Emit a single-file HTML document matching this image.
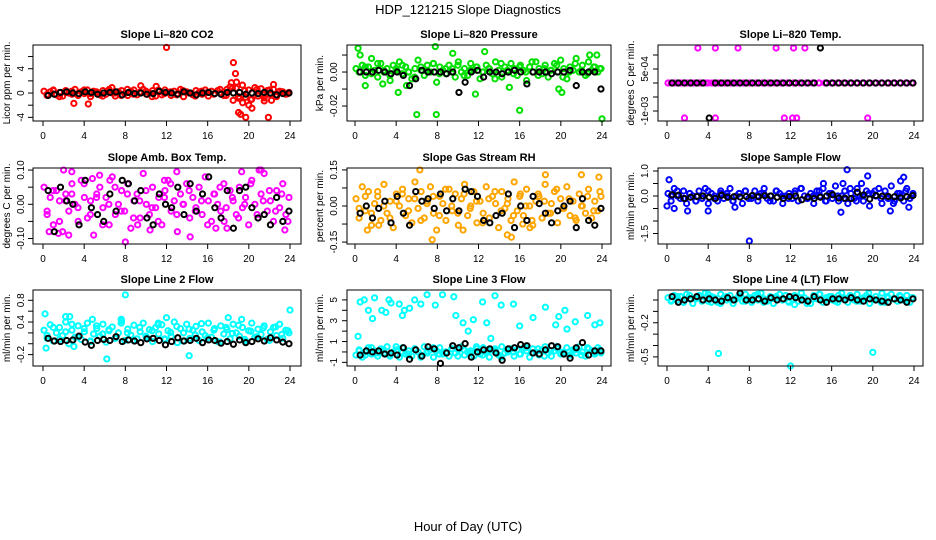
<!DOCTYPE html>
<html><head><meta charset="utf-8"><style>
html,body{margin:0;padding:0;background:#fff;}
svg{display:block;font-family:"Liberation Sans",Arial,sans-serif;}
</style></head><body>
<svg id="fig" width="936" height="540" viewBox="0 0 936 540" xmlns="http://www.w3.org/2000/svg">
<text x="468" y="14" text-anchor="middle" font-size="13">HDP_121215  Slope Diagnostics</text>
<text x="468" y="531" text-anchor="middle" font-size="13">Hour of Day (UTC)</text>
<g id="panels"></g>
</svg>
<script>
const xTicks=[0,4,8,12,16,20,24];
// CO2 (ppm/min)
const co2Band=[0.3,-0.4,0.2,0.5,-0.3,0.1,-0.5,0.4,0.0,-0.2,0.6,-0.4,0.2,-0.1,0.5,-0.6,0.3,0.1,-0.3,0.4,-0.2,0.6,0.0,-0.5,0.2,0.4,-0.1,-0.4,0.3,0.5,-0.3,0.1,0.6,-0.2,0.0,0.4,-0.5,0.2,-0.3,0.5,0.1,-0.4,0.3,-0.1,0.6,-0.6,0.2,0.0,-0.3,0.4,0.1,-0.2,0.5,-0.5,0.3,-0.1,0.4,0.0,-0.4,0.6,1.0,-1.2,0.8,-0.9,1.3,-0.7,0.5,-1.0,0.9,-0.5,0.7,-0.8,0.4,-0.3,0.6,-0.6,0.3,0.2,-0.2,0.1];
const co2Band2=[-0.2,0.4,-0.6,0.1,0.3,-0.3,0.5,-0.1,0.2,-0.5,0.4,0.0,-0.4,0.6,-0.2,0.1,0.3,-0.6,0.5,-0.1,0.2,-0.3,0.4,0.0,-0.5,0.3,0.1,-0.2,0.6,-0.4,0.8,-0.6,0.4,-1.1,0.6,-0.3,0.5,-0.4,0.2,-0.1];
const co2OutHour=[12,18.5,18.7,18.8,19,19.2,19.7,21.9,20.3,19.4,3,4.4,20,21.5,22.2,22.4,18.3,9.5,11,6.7];
const co2OutVal=[7.5,5,3.2,1.8,-3.2,-3.5,-4,-4,-2.5,-1.6,-1.7,-1.8,-2,-1.3,-1.2,1.4,1.7,1.2,1.1,0.9];
const co2Black=[-0.4,-0.2,0.1,0.2,0,-0.1,0.2,0.1,-0.2,0,0.1,0.2,-0.3,0.1,-0.1,0,-0.2,-0.1,0.3,0.1,0,-0.2,0.2,0,-0.3,0,0.1,-0.1,-0.2,0.1,0,0.1,-0.2,0,-0.1,0.1,0,-0.3,-0.1,0];
const co2Ticks=[-4,-2,0,2,4,6];
const co2Labels=["-4","","0","","4",""];
// Pressure (0.001 kPa/min)
const presBand=[2,0,4,-2,3,8,1,-3,5,0,2,-5,4,1,6,-1,3,0,-4,2,7,1,-2,4,0,5,-6,3,1,-1,4,2,-3,6,0,2,-2,5,1,3,-4,0,4,2,-1,6,1,-3,3,0,5,2,-2,4,1,-5,3,0,6,2,-1,4,-3,1,5,0,7,2,-4,3,1,8,0,4,-2,6,1,3,0,2];
const presBand2=[0,3,-1,5,1,-2,2,4,0,-3,3,1,5,-1,2,0,4,-2,1,3,0,2,-4,5,1,-1,3,0,6,-2,2,1,4,-3,0,5,1,-1,3,2];
const presOutHour=[6,7.9,24,0.3,7.8,0.5,11.7,16,15,4.2,5,2.7,1,19.8,20.1,22.8,23.5,9.5,12.6];
const presOutVal=[-25,-25,-27.5,14,15,10,-13,-22.5,-9,-12,-8,-7,-8,-10,-12,10,10,11,12];
const presBlack=[0,0,0,1,0,-1,0,-2,-8,-4,1,0,0,0,-1,0,-12,-6,0,1,-3,0,0,-1,0,1,0,-7,0,0,0,-1,0,0,1,-8,0,0,0,-10];
const presTicks=[-20,-10,0,10];
const presLabels=["-0.02","","0.00",""];
// Li-820 Temp (1e-4 C/min)
const tempBand=[0,0,0,0,0,0,0,0,0,0,0,0,0,0,0,0,0,0,0,0,0,0,0,0,0,0,0,0,0,0,0,0,0,0,0,0,0,0,0,0];
const tempBand2=[0,0,0,0,0,0,0,0,0,0,0,0,0,0,0,0,0,0,0,0,0,0,0,0,0,0,0,0,0,0,0,0,0,0,0,0,0,0,0,0];
const tempOutHour=[3,4.7,6.9,10.6,12.3,13.4,1.7,4.7,11.4,12.2,12.6,19.5];
const tempOutVal=[12.5,12.5,12.5,12.5,12.5,12.5,-12.5,-12.5,-12.5,-12.5,-12.5,-12.5];
const tempBlack=[0,0,0,0,0,0,-12.5,0,0,0,0,0,0,0,0,0,0,0,0,0,0,0,0,0,12.5,0,0,0,0,0,0,0,0,0,0,0,0,0,0,0];
const tempTicks=[-10,-5,0,5,10];
const tempLabels=["-1e-03","","","5e-04",""];
// Amb box temp (0.01 C/min)
const ambBand=[5,-3,2,-6,4,1,-8,3,-2,6,0,-5,7,2,-4,1,-9,3,5,-1,2,-6,8,-3,0,4,-2,6,-7,1,3,-4,9,0,-3,5,-1,2,-6,4,7,-2,1,-8,3,0,6,-4,2,-1,5,-3,8,1,-5,3,0,-2,6,-7,4,1,-3,5,-1,2,-6,7,0,-4,3,9,-2,1,-5,4,-1,6,-3,2];
const ambBand2=[-2,4,-5,1,3,-1,6,-3,2,-6,0,5,-2,3,-4,1,4,-1,-5,2,6,-3,0,4,-2,1,-6,3,5,-1,2,-4,0,6,-3,1,4,-2,3,-5];
const ambOutHour=[2,2.8,8,0.6,1.5,2.5,10.4,14.3,16.8,21,21.2,19.3,13,4.8,5.5,9.2,23.5,17.6,11.8,6.5];
const ambOutVal=[10,9.5,-11,-8,-8.5,-9,-7.5,-9.5,-7,10,10,9.5,9.5,7.5,8.5,-6,-7.5,-5,7,7];
const ambBlack=[4,-8,5,1,0,-6,7,-1,-3,-5,3,-2,7,6,1,4,-4,-6,3,0,-1,5,-3,6,-2,3,8,-1,-4,4,-7,4,5,-1,-4,-3,-6,2,-5,-2];
const ambTicks=[-10,-5,0,5,10];
const ambLabels=["-0.10","","0.00","","0.10"];
// RH (0.01 %/min)
const rhBand=[3,-5,8,-2,6,-8,1,4,-6,9,-3,2,-9,5,0,7,-4,3,-7,10,-1,6,-5,2,8,-3,-10,4,1,-6,7,-2,5,-8,3,9,-4,0,6,-7,2,-3,8,-5,4,1,-9,6,-1,3,-6,10,-2,5,-4,7,0,-8,2,4,-5,9,-3,1,6,-7,3,-1,8,-4,2,-6,5,0,-3,7,-5,2,-2,4];
const rhBand2=[-1,4,-3,6,0,-5,2,5,-2,3,-6,1,4,-4,7,0,-3,5,-1,2,-7,3,6,-2,1,-4,4,0,-6,5,2,-3,7,-1,3,-5,0,4,-2,6];
const rhOutHour=[6.3,7.5,15.2,14.8,2.3,18.5,22,23.7,1.2,10.5,17,16.3];
const rhOutVal=[15,-14,-13,-12,-8,13,13,12,-10,-10,-9,-7.5];
const rhBlack=[-3,0,-5,-1,2,-7,4,-3,-8,6,2,3,-1,5,-2,3,-2,7,6,4,-6,-7,-4,-3,5,-9,0,-6,4,1,-3,-7,-2,0,2,-9,3,-6,-8,-1];
const rhTicks=[-15,-7.5,0,7.5,15];
const rhLabels=["-0.15","","0.00","","0.15"];
// Sample flow (0.1 ml/min per min)
const flowBand=[1,-2,3,0,-1,2,-3,1,0,-2,2,-1,3,-3,1,0,-2,2,-1,1,3,-2,0,1,-3,2,-1,0,2,-2,1,3,-1,0,-2,2,1,-3,0,1,-1,2,-2,3,0,-1,1,-3,2,0,3,-2,1,-1,4,-2,0,2,-3,1,-1,3,0,-2,2,-4,1,0,3,-3,2,-1,4,-2,1,0,-2,3,-1,1];
const flowBand2=[0,2,-1,1,-2,0,2,-1,1,0,-2,1,2,-1,0,1,-2,2,0,-1,1,3,-1,0,2,-2,1,0,-1,3,-2,0,1,2,-1,0,-3,1,2,0];
const flowOutHour=[0.2,0,0.7,4,8,17.5,19.5,18.9,23,22.7,17.1,15.2,6.6,16.9,21.7,23.5,2];
const flowOutVal=[6.5,-4,-5,-6,-18,10.5,8,5,7.5,6,5,5,-4.5,-6.5,-6,-4.5,-6];
const flowBlack=[0.5,0.3,-1,-0.5,-0.2,0,-0.5,-1,0.3,-0.5,-0.3,-0.4,-0.2,0.2,-0.3,0.1,0,-0.5,-1,-0.2,0,-1.5,-0.4,-1,-0.5,0,0.5,-0.8,-0.9,-1,1.5,0.4,-1.2,0.2,-0.1,-0.2,-0.3,-0.8,-0.3,0.2];
const flowTicks=[-15,-10,-5,0,5,10];
const flowLabels=["-1.5","","","0.0","","1.0"];
// Line 2 flow (0.01)
const l2Band=[25,10,35,5,20,30,15,40,0,25,12,33,8,22,38,5,18,28,14,36,3,24,31,10,20,42,6,27,16,34,9,22,38,12,26,4,30,18,35,8,24,14,40,2,28,20,36,10,25,32,6,22,15,38,12,28,4,33,18,26,9,36,20,14,30,5,24,38,12,27,17,33,8,22,30,15,36,10,25,20];
const l2Band2=[15,30,8,22,36,12,28,4,33,18,26,10,38,20,6,30,14,24,35,9,21,32,5,27,16,37,11,25,3,30,19,34,8,23,13,29,6,31,17,24];
const l2OutHour=[0.2,2.2,2.6,4.8,8,7.6,0.3,14.2,6.2,24,12,19.3,18,11.2,3];
const l2OutVal=[55,50,50,45,90,45,-8,-22,-28,62,48,45,48,38,-5];
const l2Black=[10,5,4,6,7,14,3,-3,6,8,6,13,4,7,5,2,9,10,6,-2,4,11,5,6,10,2,7,6,1,4,-1,7,2,4,9,5,11,7,3,0];
const l2Ticks=[-20,0,20,40,60,80];
const l2Labels=["-0.2","","","0.4","","0.8"];
// Line 3 flow
const l3Band=[-0.3,0.2,-0.5,0,0.4,-0.2,0.1,-0.4,0.3,-0.1,0.5,-0.3,0,0.2,-0.5,0.4,-0.2,0.1,-0.4,0.3,0,-0.3,0.5,-0.1,0.2,-0.5,0.1,0.4,-0.2,0,-0.4,0.3,-0.1,0.2,0.5,-0.3,0,0.1,-0.4,0.3,-0.2,0.4,0,-0.5,0.2,0.1,-0.3,0.5,-0.1,0,0.3,-0.4,0.2,-0.2,0.4,0.1,-0.5,0.3,0,-0.3,0.2,0.5,-0.1,-0.4,0.1,0.3,-0.2,0,0.4,-0.3,0.2,-0.1,0.5,0,-0.4,0.3,0.1,-0.2,0.4,-0.1];
const l3Band2=[0.1,-0.3,0.4,-0.1,0.2,-0.4,0.5,0,-0.2,0.3,-0.5,0.1,0.4,-0.2,0,0.3,-0.4,0.2,-0.1,0.5,-0.3,0.1,0.3,-0.5,0.2,0,-0.2,0.4,-0.1,0.3,-0.4,0.1,0.5,-0.2,0,0.2,-0.3,0.4,-0.1,0.2];
const l3OutHour=[0.3,0.5,0.9,1.3,1.7,1.9,2.6,3.0,3.3,3.5,4.3,4.6,4.8,5.3,5.8,6.4,7.0,7.8,8.5,9.6,9.8,10.5,11.5,12.4,13.6,14.2,15.4,16,17.3,18.5,19.8,20.6,21.4,22.6,23.3,23.8,11,12.8,13.2,19.5,20.4];
const l3OutVal=[1.5,4.8,5,4,3.2,5.2,4,3.8,5,4.7,4.6,3.5,4,4.2,5,4.6,5.5,4.5,5.5,5.3,3.5,2.8,3.1,4.8,5.4,4.5,4.6,2.5,3.3,4.3,3.4,2.2,2.9,3.5,2.6,2.8,2,2.8,1.3,2.6,4];
const l3Black=[-0.3,0.1,0,0.1,-0.2,-0.1,-0.3,0.4,-0.7,0.2,-0.4,0.5,0.3,-1.1,-0.1,0.6,0.4,0.8,-0.5,0,0.2,0.3,-0.1,-0.8,0.3,0.4,0.7,0.6,-0.1,-0.2,0.2,0.6,0.5,-0.2,-0.6,0.4,0.9,-0.3,0.1,0.1];
const l3Ticks=[-1,0,1,2,3,4,5];
const l3Labels=["-1","","1","","3","","5"];
// Line 4 flow (0.01)
const l4Band=[2,-1,4,0,3,-2,5,1,-3,2,4,0,6,-1,3,1,-2,5,2,0,4,-3,1,3,-1,5,2,-2,4,0,6,1,-1,3,-3,2,5,0,4,-2,1,3,-1,6,2,0,-3,4,1,5,-2,2,3,0,-1,4,6,1,-2,3,0,5,-1,2,4,-3,1,3,0,6,-2,2,5,1,-1,3,0,4,-2,2];
const l4Band2=[0,3,-2,4,1,-1,5,2,-3,3,0,4,-1,2,5,-2,1,3,0,-1,4,2,-3,1,5,0,3,-2,2,4,-1,1,6,0,-2,3,1,4,-1,2];
const l4OutHour=[5,12,20,12.4,4.3];
const l4OutVal=[-47,-58,-46,-4,-2];
const l4Black=[3,-2,0,1,3,0,1,0,-1,2,0,6,0,0,1,-1,2,0,1,3,2,0,-1,3,0,-2,1,1,0,2,0,-1,1,0,-1,-2,1,0,-2,1];
const l4Ticks=[0,-10,-20,-30,-40,-50];
const l4Labels=["","","-0.2","","","-0.5"];

const cols=[{bx0:33,bx1:301,x0:43,x24:290,yl:10,tl:24},{bx0:347,bx1:611,x0:355,x24:602,yl:323,tl:337},{bx0:658,bx1:923,x0:667,x24:914,yl:634,tl:648}];
const rows=[{by0:45,by1:121},{by0:168,by1:244},{by0:290,by1:366}];
const panels=[
 {name:"co2",title:"Slope Li\u2013820 CO2",ylab:"Licor ppm per min.",color:"#ff0000",c:0,r:0,dom:[-4.6,7.9],band:co2Band,band2:co2Band2,oh:co2OutHour,ov:co2OutVal,blk:co2Black,ticks:co2Ticks,labels:co2Labels},
 {name:"pressure",title:"Slope Li\u2013820 Pressure",ylab:"kPa per min.",color:"#00e000",c:1,r:0,dom:[-28.8,15.9],band:presBand,band2:presBand2,oh:presOutHour,ov:presOutVal,blk:presBlack,ticks:presTicks,labels:presLabels},
 {name:"li820-temp",title:"Slope Li\u2013820 Temp.",ylab:"degrees C per min.",color:"#ff00ff",c:2,r:0,dom:[-13.57,13.57],band:tempBand,band2:tempBand2,oh:tempOutHour,ov:tempOutVal,blk:tempBlack,ticks:tempTicks,labels:tempLabels},
 {name:"amb-box-temp",title:"Slope Amb. Box Temp.",ylab:"degrees C per min.",color:"#ff00ff",c:0,r:1,dom:[-11.6,10.6],band:ambBand,band2:ambBand2,oh:ambOutHour,ov:ambOutVal,blk:ambBlack,ticks:ambTicks,labels:ambLabels},
 {name:"gas-stream-rh",title:"Slope Gas Stream RH",ylab:"percent per min.",color:"#ffa500",c:1,r:1,dom:[-15.8,15.8],band:rhBand,band2:rhBand2,oh:rhOutHour,ov:rhOutVal,blk:rhBlack,ticks:rhTicks,labels:rhLabels},
 {name:"sample-flow",title:"Slope Sample Flow",ylab:"ml/min per min.",color:"#0000ff",c:2,r:1,dom:[-19.2,11.2],band:flowBand,band2:flowBand2,oh:flowOutHour,ov:flowOutVal,blk:flowBlack,ticks:flowTicks,labels:flowLabels},
 {name:"line2-flow",title:"Slope Line 2 Flow",ylab:"ml/min per min.",color:"#00ffff",c:0,r:2,dom:[-41,99],band:l2Band,band2:l2Band2,oh:l2OutHour,ov:l2OutVal,blk:l2Black,ticks:l2Ticks,labels:l2Labels},
 {name:"line3-flow",title:"Slope Line 3 Flow",ylab:"ml/min per min.",color:"#00ffff",c:1,r:2,dom:[-1.35,5.95],band:l3Band,band2:l3Band2,oh:l3OutHour,ov:l3OutVal,blk:l3Black,ticks:l3Ticks,labels:l3Labels},
 {name:"line4-flow",title:"Slope Line 4 (LT) Flow",ylab:"ml/min per min.",color:"#00ffff",c:2,r:2,dom:[-58,8.8],band:l4Band,band2:l4Band2,oh:l4OutHour,ov:l4OutVal,blk:l4Black,ticks:l4Ticks,labels:l4Labels}
];
const NS="http://www.w3.org/2000/svg";
const root=document.getElementById("panels");
function mk(tag,attrs,parent){const e=document.createElementNS(NS,tag);for(const k in attrs)e.setAttribute(k,attrs[k]);parent.appendChild(e);return e;}
panels.forEach(p=>{
 const C=cols[p.c],R=rows[p.r];
 const xs=h=>C.x0+(C.x24-C.x0)*h/24;
 const ys=v=>R.by1-(v-p.dom[0])/(p.dom[1]-p.dom[0])*(R.by1-R.by0);
 const g=mk("g",{},root);
 
 
 const t=mk("text",{x:(C.bx0+C.bx1)/2,y:R.by0-7,"text-anchor":"middle","font-size":"11","font-weight":"bold"},g);
 t.textContent=p.title;
 
 
 const yl=mk("text",{x:0,y:0,"text-anchor":"middle","font-size":"10",transform:`translate(${C.yl},${(R.by0+R.by1)/2}) rotate(-90)`},g);
 yl.textContent=p.ylab;
 
 
 const pts=mk("g",{fill:"none","stroke-width":"2"},g);
 
 
 const n=p.band.length;
 p.band.forEach((v,i)=>{
  const h=0.1+i*23.8/(n-1);
  const c=mk("circle",{cx:xs(h),cy:ys(v),r:2.6,stroke:p.color},pts);
  
  
 });
 const n2=p.band2.length;
 p.band2.forEach((v,i)=>{
  const h=0.4+i*23.4/(n2-1);
  const c=mk("circle",{cx:xs(h),cy:ys(v),r:2.6,stroke:p.color},pts);
  
  
 });
 p.oh.forEach((h,i)=>{
  const c=mk("circle",{cx:xs(h),cy:ys(p.ov[i]),r:2.6,stroke:p.color},pts);
  
  
 });
 p.blk.forEach((v,i)=>{
  const h=0.5+i*23.4/(p.blk.length-1);
  const c=mk("circle",{cx:xs(h),cy:ys(v),r:2.6,stroke:"#000"},pts);
  
  
 });
 const box=mk("rect",{x:C.bx0,y:R.by0,width:C.bx1-C.bx0,height:R.by1-R.by0,fill:"none",stroke:"#000","stroke-width":"1"},g);
 
 
 const xa=mk("g",{},g);
 
 
 xTicks.forEach(h=>{
  mk("line",{x1:xs(h),x2:xs(h),y1:R.by1,y2:R.by1+5,stroke:"#000"},xa);
  const tl=mk("text",{x:xs(h),y:R.by1+18,"text-anchor":"middle","font-size":"10"},xa);
  tl.textContent=String(h);
  
  
 });
 const ya=mk("g",{},g);
 
 
 p.ticks.forEach((v,i)=>{
  const y=ys(v);
  mk("line",{x1:C.bx0-5,x2:C.bx0,y1:y,y2:y,stroke:"#000"},ya);
  if(p.labels[i]){
   const tl=mk("text",{x:0,y:0,"text-anchor":"middle","font-size":"10",transform:`translate(${C.tl},${y}) rotate(-90)`},ya);
   tl.textContent=p.labels[i];
   
   
  }
 });
});
</script>
</body></html>
